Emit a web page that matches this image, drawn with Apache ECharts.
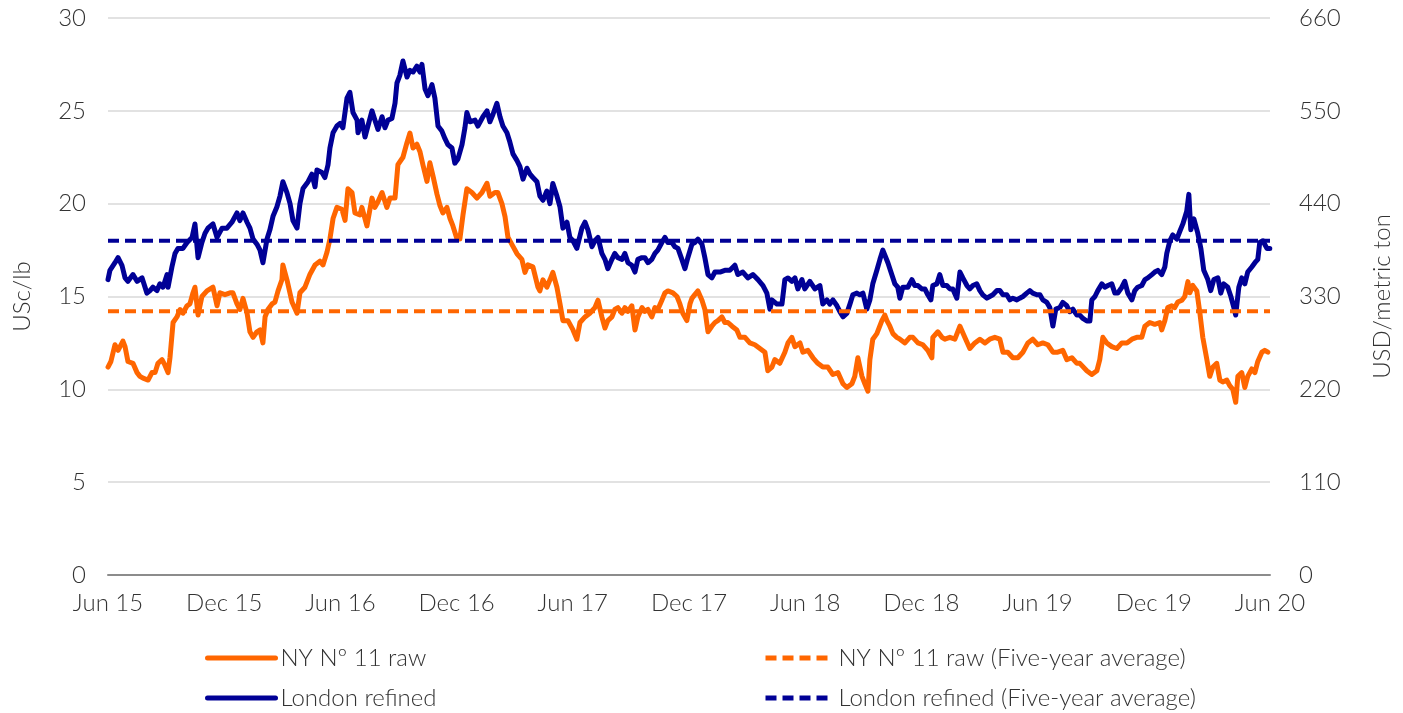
<!DOCTYPE html>
<html>
<head>
<meta charset="utf-8">
<script src="https://cdn.jsdelivr.net/npm/echarts@6/dist/echarts.min.js"></script>
<style>
html,body{margin:0;padding:0;background:#fff;}
#chart{width:1403px;height:713px;}
</style>
</head>
<body>
<div id="chart"></div>
<script>
// X positions in months since Jun 2015; tick labels every 6 months
const tickLabels = ['Jun 15','Dec 15','Jun 16','Dec 16','Jun 17','Dec 17','Jun 18','Dec 18','Jun 19','Dec 19','Jun 20'];

// NY No 11 raw (USc/lb, left axis)
const nyMonths = [
0,0.15,0.36,0.52,0.62,0.77,0.88,1.03,1.29,1.50,
1.65,1.81,2.07,2.27,2.43,2.58,2.79,2.94,3.10,3.20,
3.36,3.56,3.72,3.87,4.08,4.23,4.39,4.49,4.65,4.85,
5.11,5.42,5.63,5.78,6.04,6.30,6.45,6.66,6.81,6.97,
7.18,7.33,7.49,7.69,7.85,8.00,8.11,8.26,8.47,8.62,
8.78,8.98,9.03,9.24,9.50,9.76,9.91,10.17,10.43,10.69,
10.94,11.10,11.31,11.46,11.62,11.82,12.08,12.24,12.39,12.60,
12.75,13.01,13.11,13.37,13.63,13.78,13.94,14.15,14.40,14.56,
14.82,14.97,15.23,15.44,15.59,15.75,15.95,16.11,16.26,16.47,
16.62,16.78,16.99,17.14,17.29,17.50,17.66,17.81,18.02,18.17,
18.33,18.53,18.79,19.05,19.31,19.57,19.72,19.98,20.13,20.34,
20.50,20.65,20.91,21.12,21.37,21.53,21.68,21.94,22.20,22.30,
22.46,22.66,22.82,22.97,23.18,23.34,23.49,23.75,24.01,24.21,
24.37,24.63,24.88,25.14,25.30,25.50,25.66,25.81,26.02,26.17,
26.33,26.54,26.69,26.85,27.05,27.21,27.36,27.57,27.72,27.88,
28.08,28.24,28.39,28.60,28.76,28.91,29.17,29.38,29.53,29.68,
29.89,30.05,30.15,30.30,30.46,30.67,30.82,30.98,31.18,31.34,
31.49,31.70,31.85,32.01,32.22,32.47,32.63,32.89,33.14,33.40,
33.66,33.92,34.07,34.28,34.43,34.69,34.95,35.11,35.31,35.47,
35.73,35.88,36.14,36.40,36.65,36.91,37.17,37.43,37.69,37.95,
38.15,38.41,38.56,38.72,38.93,39.08,39.24,39.34,39.49,39.70,
39.96,40.11,40.22,40.37,40.53,40.73,40.89,41.15,41.40,41.56,
41.82,42.08,42.33,42.54,42.59,42.85,43.06,43.21,43.47,43.73,
43.99,44.24,44.50,44.76,45.02,45.28,45.53,45.79,46.05,46.21,
46.46,46.72,46.98,47.24,47.50,47.75,48.01,48.27,48.53,48.79,
49.04,49.30,49.51,49.77,50.03,50.18,50.54,50.80,51.06,51.21,
51.37,51.57,51.83,52.09,52.35,52.61,52.87,53.12,53.38,53.54,
53.79,54.05,54.31,54.41,54.57,54.72,54.93,55.08,55.24,55.45,
55.60,55.76,55.86,56.01,56.22,56.38,56.53,56.74,56.89,57.05,
57.25,57.41,57.56,57.77,57.92,58.08,58.23,58.34,58.54,58.70,
58.85,59.06,59.22,59.37,59.58,59.73,59.89
];
const nyValues = [
11.2,11.5,12.4,12.1,12.0,12.6,12.3,11.5,11.4,10.9,
10.7,10.6,10.5,10.9,10.9,11.4,11.6,11.3,10.9,11.7,
13.6,13.9,14.3,14.1,14.5,14.6,15.2,15.5,14.0,15.0,
15.3,15.5,14.5,15.2,15.1,15.2,15.2,14.6,14.3,14.9,
14.1,13.1,12.8,13.1,13.2,12.5,13.9,14.3,14.6,14.7,
15.3,15.9,16.7,15.9,14.7,14.1,15.2,15.5,16.2,16.7,
16.9,16.7,17.4,18.1,19.2,19.8,19.7,19.1,20.8,20.6,
19.5,19.4,19.8,18.8,20.3,19.8,20.1,20.6,19.8,20.3,
20.3,22.1,22.5,23.3,23.8,23.0,23.2,22.8,22.1,21.2,
22.2,21.5,20.5,19.9,19.5,19.8,19.2,18.8,18.1,18.1,
19.4,20.8,20.6,20.3,20.6,21.1,20.4,20.6,20.6,20.0,
19.3,18.2,17.7,17.3,17.0,16.3,16.7,16.6,15.5,15.3,
15.9,15.5,15.9,16.3,15.5,14.6,13.7,13.7,13.2,12.7,
13.6,13.9,14.1,14.4,14.8,13.9,13.3,13.7,13.9,14.3,
14.4,14.1,14.4,14.2,14.5,13.2,13.9,14.4,14.2,14.3,
13.9,14.4,14.3,14.8,15.2,15.3,15.2,15.0,14.6,14.1,
13.7,14.6,14.9,15.1,15.3,14.8,14.3,13.1,13.4,13.6,
13.7,13.9,13.6,13.6,13.4,13.2,12.8,12.8,12.5,12.4,
12.2,12.0,11.0,11.2,11.6,11.4,12.0,12.5,12.8,12.3,
12.5,12.0,12.1,11.7,11.4,11.2,11.2,10.8,10.9,10.3,
10.1,10.3,10.7,11.7,10.7,10.3,9.9,11.6,12.7,13.0,
13.7,14.0,13.7,13.4,13.0,12.8,12.7,12.5,12.8,12.8,
12.5,12.4,12.1,11.7,12.8,13.1,12.8,12.7,12.8,12.7,
13.4,12.8,12.2,12.5,12.7,12.5,12.7,12.8,12.7,12.0,
12.0,11.7,11.7,12.0,12.5,12.7,12.4,12.5,12.4,12.0,
12.0,12.1,11.6,11.7,11.4,11.4,11.0,10.8,11.0,11.6,
12.8,12.5,12.3,12.2,12.5,12.5,12.7,12.8,12.8,13.4,
13.6,13.5,13.6,13.2,13.7,14.4,14.5,14.4,14.7,14.8,
15.0,15.8,15.2,15.6,15.3,14.1,12.8,11.6,10.7,11.2,
11.4,10.5,10.4,10.5,10.2,10.0,9.3,10.7,10.9,10.1,
10.7,11.1,10.9,11.5,12.0,12.1,12.0
];

// London refined (USD/metric ton, right axis)
const ldnMonths = [
0,0.10,0.36,0.52,0.72,0.88,1.03,1.29,1.50,1.76,
2.01,2.17,2.32,2.53,2.68,2.84,3.05,3.10,3.30,3.46,
3.61,3.87,4.08,4.34,4.49,4.65,4.85,5.01,5.16,5.42,
5.63,5.89,6.14,6.40,6.66,6.81,6.97,7.18,7.33,7.49,
7.69,7.85,8.00,8.21,8.36,8.52,8.72,8.88,9.03,9.24,
9.40,9.55,9.76,9.91,10.07,10.33,10.53,10.69,10.79,11.05,
11.20,11.36,11.46,11.62,11.82,11.98,12.13,12.34,12.49,12.65,
12.86,12.91,13.11,13.27,13.42,13.63,13.78,13.94,14.15,14.30,
14.46,14.66,14.82,14.92,15.07,15.23,15.44,15.59,15.75,15.95,
16.11,16.21,16.37,16.52,16.73,16.88,17.04,17.24,17.40,17.55,
17.76,17.91,18.07,18.28,18.43,18.53,18.69,18.95,19.10,19.36,
19.57,19.72,19.88,20.08,20.24,20.39,20.60,20.75,20.91,21.12,
21.27,21.43,21.63,21.79,21.94,22.15,22.30,22.46,22.66,22.82,
22.97,23.18,23.34,23.49,23.70,23.85,24.01,24.21,24.47,24.63,
24.78,24.99,25.14,25.30,25.50,25.66,25.81,26.02,26.17,26.33,
26.54,26.69,26.85,27.05,27.21,27.36,27.57,27.72,27.88,28.08,
28.24,28.39,28.60,28.76,28.91,29.12,29.27,29.43,29.63,29.79,
29.94,30.15,30.30,30.46,30.67,30.82,30.98,31.18,31.34,31.60,
31.85,32.11,32.37,32.52,32.78,33.04,33.30,33.56,33.82,34.02,
34.18,34.28,34.54,34.80,34.95,35.11,35.31,35.47,35.62,35.83,
35.98,36.24,36.50,36.76,36.91,37.12,37.27,37.43,37.64,37.79,
37.95,38.15,38.31,38.46,38.67,38.82,38.98,39.18,39.34,39.49,
39.70,39.86,40.01,40.11,40.27,40.47,40.63,40.78,40.89,41.04,
41.30,41.51,41.66,41.82,42.02,42.18,42.33,42.49,42.59,42.80,
42.95,43.11,43.31,43.47,43.62,43.83,43.99,44.14,44.35,44.50,
44.66,44.86,45.02,45.17,45.38,45.53,45.69,45.90,46.05,46.21,
46.41,46.57,46.72,46.93,47.08,47.24,47.44,47.60,47.75,47.96,
48.12,48.27,48.48,48.63,48.79,48.94,49.15,49.30,49.51,49.66,
49.82,50.03,50.18,50.34,50.54,50.70,50.80,50.96,51.11,51.32,
51.47,51.63,51.83,51.99,52.14,52.35,52.50,52.66,52.87,53.02,
53.17,53.38,53.54,53.69,53.90,54.05,54.21,54.41,54.57,54.67,
54.83,54.98,55.19,55.34,55.50,55.70,55.81,55.91,56.07,56.27,
56.43,56.58,56.79,56.94,57.10,57.31,57.46,57.61,57.82,57.98,
58.13,58.23,58.39,58.54,58.70,58.85,59.06,59.22,59.37,59.47,
59.63,59.84,59.99
];
const ldnValues = [
350,361,370,376,367,352,348,356,348,352,
334,337,341,337,345,341,356,341,365,381,
387,387,394,400,416,376,394,405,411,416,
400,411,411,418,429,420,429,418,411,398,
392,385,370,398,409,425,436,449,466,453,
440,420,411,440,458,466,475,460,480,477,
471,486,506,524,532,535,530,565,572,548,
539,524,539,519,532,550,539,528,543,530,
539,541,559,583,592,609,590,598,596,603,
596,605,576,568,581,565,532,526,517,510,
506,488,493,510,530,548,537,539,532,543,
550,537,546,559,543,532,524,513,499,491,
484,469,482,475,471,466,449,444,455,440,
464,449,436,411,418,400,396,387,411,418,
409,389,396,400,381,374,363,374,381,376,
374,381,370,367,359,374,376,376,370,374,
381,385,394,400,394,394,389,387,374,363,
376,392,394,398,392,376,356,352,359,359,
361,361,367,356,359,352,356,350,343,334,
315,326,321,321,350,352,348,352,339,350,
339,348,339,343,321,326,321,326,319,312,
306,310,321,332,334,332,334,315,326,345,
361,374,385,387,370,356,345,341,328,341,
341,350,343,343,339,339,332,326,343,345,
356,343,343,339,339,328,359,352,343,339,
343,345,337,332,328,330,332,337,337,332,
332,326,328,326,328,330,334,337,334,332,
332,326,323,317,295,315,317,323,319,312,
315,308,308,304,301,301,326,330,337,345,
341,343,345,334,334,341,348,334,326,337,
341,343,350,352,356,359,361,356,365,381,
396,403,398,407,416,431,451,409,422,405,
387,361,350,337,350,352,334,345,341,330,
317,308,341,352,345,359,365,370,374,394,
396,387,387
];

// Five-year averages
const nyAverage = 14.2;   // USc/lb
const ldnAverage = 396;   // USD/metric ton

const ORANGE = '#ff6600';
const NAVY = '#000096';
const FONT = 'Lato, "Open Sans", sans-serif';
const TXT = '#333333';
const FS = 24;

const zip = (xs, ys) => xs.map((x, i) => [x, ys[i]]);
const flat = (v) => [[0, v], [60, v]];

const chart = echarts.init(document.getElementById('chart'), null, {renderer: 'canvas'});

const legendBase = {
  orient: 'horizontal', padding: 0, itemWidth: 68, itemHeight: 14, itemGap: 0,
  itemStyle: {opacity: 0, borderWidth: 0},
  lineStyle: {width: 5},
  textStyle: {fontFamily: FONT, fontWeight: 300, fontSize: FS, color: TXT},
  selectedMode: false
};

chart.setOption({
  animation: false,
  backgroundColor: '#ffffff',
  textStyle: {fontFamily: FONT},
  grid: {left: 108, right: 133, top: 18, bottom: 138, containLabel: false},
  legend: [
    Object.assign({}, legendBase, {left: 205, top: 646, data: ['NY Nº 11 raw']}),
    Object.assign({}, legendBase, {left: 763, top: 646, data: ['NY Nº 11 raw (Five-year average)']}),
    Object.assign({}, legendBase, {left: 205, top: 686, data: ['London refined']}),
    Object.assign({}, legendBase, {left: 763, top: 686, data: ['London refined (Five-year average)']})
  ],
  xAxis: {
    type: 'value', min: 0, max: 60, interval: 6,
    axisLine: {show: true, onZero: false, lineStyle: {color: '#8c8c8c', width: 2}},
    axisTick: {show: false},
    splitLine: {show: false},
    axisLabel: {
      margin: 16, fontFamily: FONT, fontWeight: 300, fontSize: FS, color: TXT,
      formatter: (v) => tickLabels[Math.round(v / 6)] || ''
    }
  },
  yAxis: [
    {
      type: 'value', min: 0, max: 30, interval: 5, position: 'left',
      name: 'USc/lb', nameLocation: 'middle', nameGap: 74, nameRotate: 90,
      nameTextStyle: {fontFamily: FONT, fontWeight: 300, fontSize: FS, color: TXT},
      axisLine: {show: false}, axisTick: {show: false},
      splitLine: {show: true, lineStyle: {color: '#d9d9d9', width: 1.5}},
      axisLabel: {margin: 22, fontFamily: FONT, fontWeight: 300, fontSize: FS, color: TXT}
    },
    {
      type: 'value', min: 0, max: 660, interval: 110, position: 'right',
      name: 'USD/metric ton', nameLocation: 'middle', nameGap: 100, nameRotate: 90,
      nameTextStyle: {fontFamily: FONT, fontWeight: 300, fontSize: FS, color: TXT},
      axisLine: {show: false}, axisTick: {show: false},
      splitLine: {show: false},
      axisLabel: {margin: 29, fontFamily: FONT, fontWeight: 300, fontSize: FS, color: TXT}
    }
  ],
  series: [
    {
      name: 'NY Nº 11 raw', type: 'line', yAxisIndex: 0, symbol: 'none', showSymbol: false,
      data: zip(nyMonths, nyValues),
      lineStyle: {color: ORANGE, width: 5, join: 'round', cap: 'round'}, itemStyle: {color: ORANGE}, z: 2
    },
    {
      name: 'London refined', type: 'line', yAxisIndex: 1, symbol: 'none', showSymbol: false,
      data: zip(ldnMonths, ldnValues),
      lineStyle: {color: NAVY, width: 5, join: 'round', cap: 'round'}, itemStyle: {color: NAVY}, z: 3
    },
    {
      name: 'NY Nº 11 raw (Five-year average)', type: 'line', yAxisIndex: 0, symbol: 'none', showSymbol: false,
      data: flat(nyAverage),
      lineStyle: {color: ORANGE, width: 4, type: [11, 6]}, itemStyle: {color: ORANGE}, z: 4
    },
    {
      name: 'London refined (Five-year average)', type: 'line', yAxisIndex: 1, symbol: 'none', showSymbol: false,
      data: flat(ldnAverage),
      lineStyle: {color: NAVY, width: 4, type: [11, 6]}, itemStyle: {color: NAVY}, z: 5
    }
  ]
});
</script>
</body>
</html>
